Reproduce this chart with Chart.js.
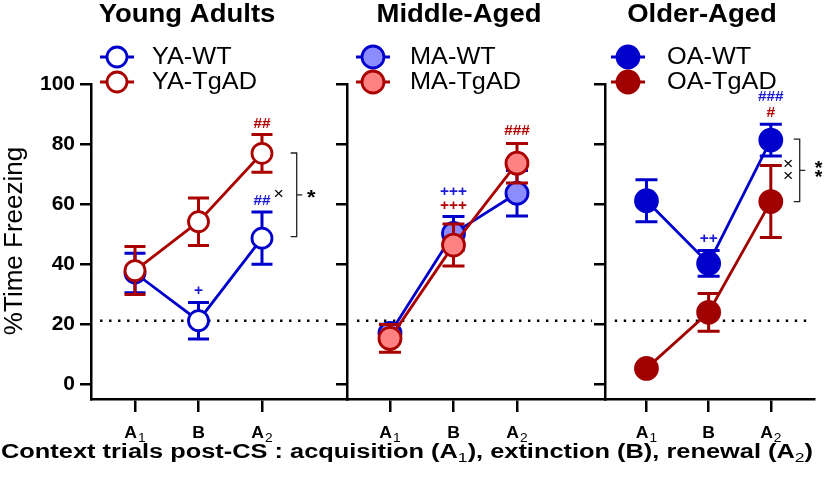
<!DOCTYPE html>
<html>
<head>
<meta charset="utf-8">
<script src="https://cdn.jsdelivr.net/npm/chart.js@4.4.1/dist/chart.umd.min.js"></script>
<style>
html,body{margin:0;padding:0;background:#ffffff;}
#wrap{position:relative;width:828px;height:478px;overflow:hidden;}
#wrap canvas{position:absolute;left:0;top:0;}
</style>
</head>
<body>
<div id="wrap">
<canvas id="c1" width="828" height="478"></canvas>
<canvas id="c2" width="828" height="478"></canvas>
<canvas id="c3" width="828" height="478"></canvas>
</div>
<script>
// ---------------- DATA ----------------
const xCategories = ['A1', 'B', 'A2'];
const tickMain = ['A', 'B', 'A'];
const tickSub = ['1', '', '2'];
const yTicks = [0, 20, 40, 60, 80, 100];
const panelTitles = ['Young Adults', 'Middle-Aged', 'Older-Aged'];
const wtNames = ['YA-WT', 'MA-WT', 'OA-WT'];
const tgNames = ['YA-TgAD', 'MA-TgAD', 'OA-TgAD'];
const yTitle = '%Time Freezing';
const xTitleParts = ['Context trials post-CS : acquisition (A', '1', '), extinction (B), renewal (A', '2', ')'];

const yaWT = [37.0, 21.1, 48.6];
const yaWTsem = [6.6, 6.1, 8.7];
const yaTg = [37.8, 54.1, 76.9];
const yaTgSem = [8.0, 7.9, 6.3];

const maWT = [16.9, 50.2, 63.6];
const maWTsem = [3.0, 5.6, 7.6];
const maTg = [15.2, 46.3, 73.6];
const maTgSem = [4.6, 7.0, 6.6];

const oaWT = [61.1, 40.2, 81.3];
const oaWTsem = [7.0, 4.3, 5.3];
const oaTg = [5.2, 23.9, 60.8];
const oaTgSem = [1.0, 6.3, 12.0];

const chanceLevel = 21.1;

// significance marks: [panel, text, category index, value, group]
const sigMarks = [
  [0, '+', 1, 31.1, 'wt'], [0, '##', 2, 60.8, 'wt'], [0, '##', 2, 86.7, 'tg'],
  [1, '+++', 1, 64.1, 'wt'], [1, '+++', 1, 59.3, 'tg'], [1, '###', 2, 84.4, 'tg'],
  [2, '###', 2, 95.7, 'wt'], [2, '#', 2, 90.3, 'tg'], [2, '++', 1, 48.2, 'wt']
];
// brackets: [panel, category pos, top value, bottom value, left mark, right mark]
const brackets = [
  [0, 2.547, 77.0, 49.1, '×', '*'],
  [2, 2.465, 81.6, 60.8, '××', '**']
];

const seriesByPanel = [
  [yaWT, yaWTsem, yaTg, yaTgSem],
  [maWT, maWTsem, maTg, maTgSem],
  [oaWT, oaWTsem, oaTg, oaTgSem]
];

// ---------------- LAYOUT / STYLE ----------------
const FONT = '"Liberation Sans", Arial, Helvetica, sans-serif';
const SX = 1.1; // horizontal text stretch of the reference
const BLUE = '#0000cc', RED = '#aa0000';
const panels = [
  {id: 'c1', left: 91, right: 347, xmin: -0.693, xmax: 3.339, showY: true, markerX: 117, textX: 152, titleX: 187,
   dotFrom: -0.55, dotTo: 3.1, radius: 10, cap: 10.5, wtFill: '#ffffff', tgFill: '#ffffff', tgColor: RED},
  {id: 'c2', left: 347, right: 605, xmin: -0.677, xmax: 3.386, showY: false, markerX: 373, textX: 410, titleX: 459,
   dotFrom: -0.52, dotTo: 3.18, radius: 11, cap: 11, wtFill: '#8c8cff', tgFill: '#ff8282', tgColor: RED},
  {id: 'c3', left: 605, right: 817, xmin: -0.667, xmax: 2.698, showY: false, markerX: 628, textX: 667, titleX: 702,
   dotFrom: -0.51, dotTo: 2.67, radius: 11, cap: 11, wtFill: '#0000cc', tgFill: '#a00000', tgColor: '#a00000'}
];

function txt(ctx, s, x, y, font, color, align, base, sx) {
  sx = sx || SX;
  ctx.save();
  ctx.font = font; ctx.fillStyle = color; ctx.textBaseline = base || 'alphabetic'; ctx.textAlign = 'left';
  const w = ctx.measureText(s).width * sx;
  const x0 = align === 'center' ? x - w / 2 : (align === 'right' ? x - w : x);
  ctx.translate(x0, y); ctx.scale(sx, 1); ctx.fillText(s, 0, 0);
  ctx.restore();
  return w;
}
function measure(ctx, s, font, sx) {
  ctx.save(); ctx.font = font; const w = ctx.measureText(s).width * (sx || SX); ctx.restore(); return w;
}
function marker(ctx, x, y, r, stroke, fill) {
  ctx.save();
  ctx.strokeStyle = stroke; ctx.lineWidth = 2.8;
  ctx.beginPath(); ctx.moveTo(x - 17, y); ctx.lineTo(x + 17, y); ctx.stroke();
  ctx.beginPath(); ctx.arc(x, y, r, 0, Math.PI * 2); ctx.fillStyle = fill; ctx.fill(); ctx.stroke();
  ctx.restore();
}

const errorBars = {
  id: 'errorBars',
  beforeDatasetDraw(chart, args) {
    const ds = chart.data.datasets[args.index];
    const xs = chart.scales.x, ys = chart.scales.y, ctx = chart.ctx;
    ctx.save();
    ctx.strokeStyle = ds.borderColor; ctx.lineWidth = 3; ctx.lineCap = 'butt';
    ds.data.forEach((p, j) => {
      const e = ds.sem[j];
      const x = xs.getPixelForValue(p.x);
      const yt = ys.getPixelForValue(p.y + e), yb = ys.getPixelForValue(p.y - e);
      const hw = ds.capHalf;
      ctx.beginPath();
      ctx.moveTo(x, yt); ctx.lineTo(x, yb);
      ctx.moveTo(x - hw, yt); ctx.lineTo(x + hw, yt);
      ctx.moveTo(x - hw, yb); ctx.lineTo(x + hw, yb);
      ctx.stroke();
    });
    ctx.restore();
  }
};

function makeDeco(pi) {
  const p = panels[pi];
  return {
    id: 'deco' + pi,
    beforeDatasetsDraw(chart) {
      const ctx = chart.ctx, xs = chart.scales.x, ys = chart.scales.y;
      const y = ys.getPixelForValue(chanceLevel);
      ctx.save();
      ctx.strokeStyle = '#000'; ctx.lineWidth = 2.4; ctx.setLineDash([2.4, 6.6]);
      ctx.beginPath(); ctx.moveTo(xs.getPixelForValue(p.dotFrom), y); ctx.lineTo(xs.getPixelForValue(p.dotTo), y); ctx.stroke();
      ctx.restore();
    },
    afterDraw(chart) {
      const ctx = chart.ctx, xs = chart.scales.x, ys = chart.scales.y;
      // title
      txt(ctx, panelTitles[pi], p.titleX, 22, 'bold 25px ' + FONT, '#000', 'center');
      // legend
      marker(ctx, p.markerX, 57, p.radius, BLUE, p.wtFill);
      marker(ctx, p.markerX, 82, p.radius, p.tgColor, p.tgFill);
      txt(ctx, wtNames[pi], p.textX, 64, '23px ' + FONT, '#000', 'left');
      txt(ctx, tgNames[pi], p.textX, 89, '23px ' + FONT, '#000', 'left');
      // x tick labels with subscripts
      xCategories.forEach((c, i) => {
        const x = xs.getPixelForValue(i);
        const fm = 'bold 16px ' + FONT, fs = '12.5px ' + FONT;
        const wm = measure(ctx, tickMain[i], fm), ws = tickSub[i] ? measure(ctx, tickSub[i], fs) + 1 : 0;
        const x0 = x - (wm + ws) / 2;
        txt(ctx, tickMain[i], x0, 438, fm, '#000', 'left');
        if (tickSub[i]) txt(ctx, tickSub[i], x0 + wm + 1, 442, fs, '#000', 'left');
      });
      // significance marks
      sigMarks.filter(m => m[0] === pi).forEach(m => {
        const col = m[4] === 'wt' ? '#1a1ad6' : '#b00000';
        txt(ctx, m[1], xs.getPixelForValue(m[2]), ys.getPixelForValue(m[3]), 'bold 14px ' + FONT, col, 'center', 'middle');
      });
      // brackets
      brackets.filter(b => b[0] === pi).forEach(b => {
        const x = xs.getPixelForValue(b[1]);
        const y1 = ys.getPixelForValue(b[2]), y2 = ys.getPixelForValue(b[3]);
        const ym = (y1 + y2) / 2;
        ctx.save();
        ctx.strokeStyle = '#222'; ctx.lineWidth = 1.3;
        ctx.beginPath();
        ctx.moveTo(x - 6, y1); ctx.lineTo(x, y1); ctx.lineTo(x, y2); ctx.lineTo(x - 6, y2);
        ctx.moveTo(x, ym); ctx.lineTo(x + 5.5, ym);
        ctx.stroke();
        ctx.restore();
        if (b[4].length === 1) {
          txt(ctx, b[4], x - 18, ym, '16px ' + FONT, '#000', 'center', 'middle');
          txt(ctx, b[5], x + 14.5, ym + 4, 'bold 20px ' + FONT, '#000', 'center', 'middle');
        } else {
          txt(ctx, '×', x - 11.5, ym - 5.5, '16px ' + FONT, '#000', 'center', 'middle');
          txt(ctx, '×', x - 11.5, ym + 6, '16px ' + FONT, '#000', 'center', 'middle');
          txt(ctx, '*', x + 19, ym - 1, 'bold 18px ' + FONT, '#000', 'center', 'middle');
          txt(ctx, '*', x + 19, ym + 8, 'bold 18px ' + FONT, '#000', 'center', 'middle');
        }
      });
      if (pi === 0) {
        // y title
        ctx.save();
        ctx.translate(15, 241); ctx.rotate(-Math.PI / 2);
        ctx.font = '26px ' + FONT; ctx.fillStyle = '#000'; ctx.textAlign = 'center'; ctx.textBaseline = 'middle';
        ctx.fillText(yTitle, 0, 0);
        ctx.restore();
        // x title with subscripts
        const fb = 'bold 19.5px ' + FONT, fsub = '13.5px ' + FONT;
        let total = 0;
        xTitleParts.forEach((s, k) => { total += measure(ctx, s, k % 2 ? fsub : fb, 1); });
        const sx = 812 / total;
        let x = 1;
        xTitleParts.forEach((s, k) => {
          x += txt(ctx, s, x, k % 2 ? 462 : 458, k % 2 ? fsub : fb, '#000', 'left', 'alphabetic', sx);
        });
      }
    }
  };
}

panels.forEach((p, pi) => {
  const s = seriesByPanel[pi];
  const mk = (vals) => vals.map((v, i) => ({x: i, y: v}));
  const tickFont = {family: FONT, size: 21, weight: 'bold'};
  new Chart(document.getElementById(p.id), {
    type: 'line',
    data: {
      datasets: [
        {label: wtNames[pi], data: mk(s[0]), sem: s[1], capHalf: p.cap, order: 1,
         borderColor: BLUE, backgroundColor: p.wtFill, pointBackgroundColor: p.wtFill, pointBorderColor: BLUE,
         borderWidth: 2.8, pointBorderWidth: 2.8, pointRadius: p.radius, tension: 0, clip: false},
        {label: tgNames[pi], data: mk(s[2]), sem: s[3], capHalf: p.cap, order: 0,
         borderColor: p.tgColor, backgroundColor: p.tgFill, pointBackgroundColor: p.tgFill, pointBorderColor: p.tgColor,
         borderWidth: 2.8, pointBorderWidth: 2.8, pointRadius: p.radius, tension: 0, clip: false}
      ]
    },
    options: {
      responsive: false, animation: false, events: [],
      layout: {padding: {left: p.left - 60, right: 828 - p.right, top: 84, bottom: 0}},
      plugins: {legend: {display: false}, tooltip: {enabled: false}, title: {display: false}},
      scales: {
        x: {
          type: 'linear', min: p.xmin, max: p.xmax,
          afterBuildTicks: sc => { sc.ticks = xCategories.map((c, i) => ({value: i})); },
          afterFit: sc => { sc.height = 79; sc.paddingLeft = 0; sc.paddingRight = 0; },
          ticks: {display: false},
          grid: {display: true, drawOnChartArea: false, drawTicks: true, tickLength: 13, color: '#000', lineWidth: 2.5},
          border: {display: true, color: '#000', width: 2.5}
        },
        y: {
          type: 'linear', min: -5, max: 100,
          afterBuildTicks: sc => { sc.ticks = yTicks.map(v => ({value: v})); },
          afterFit: sc => { sc.width = 60; sc.paddingTop = 0; sc.paddingBottom = 0; },
          ticks: {display: p.showY, font: tickFont, color: '#000', padding: 5, autoSkip: false},
          grid: {display: true, drawOnChartArea: false, drawTicks: true, tickLength: 11, color: '#000', lineWidth: 2.5},
          border: {display: true, color: '#000', width: 2.5}
        }
      }
    },
    plugins: [errorBars, makeDeco(pi)]
  });
});
</script>
</body>
</html>
